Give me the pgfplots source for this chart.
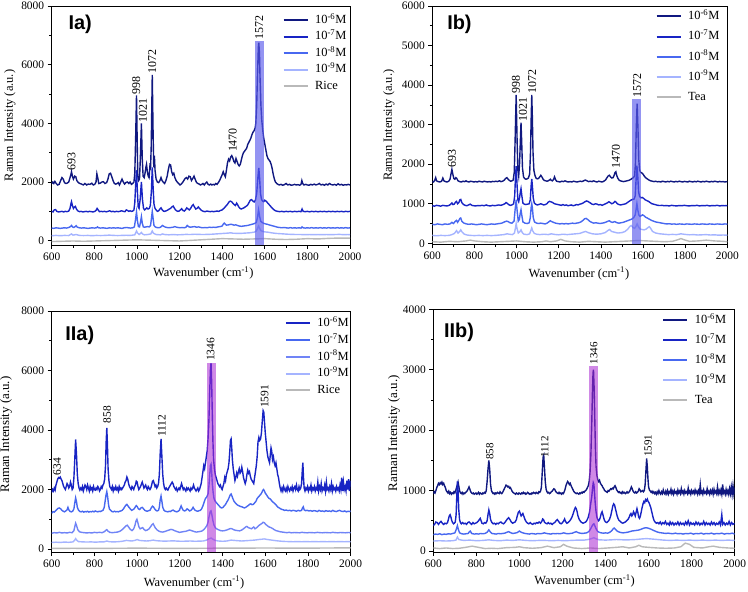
\documentclass[border=0pt]{standalone}
\usepackage{fontspec}
\setmainfont{Liberation Serif}
\newfontfamily\panelfont{Liberation Sans}
\usepackage{pgfplots}
\pgfplotsset{compat=1.18}
\definecolor{navy}{RGB}{16,24,128}
\definecolor{bluea}{RGB}{24,36,196}
\definecolor{blueb}{RGB}{72,104,240}
\definecolor{bluec}{RGB}{112,132,246}
\definecolor{bluel}{RGB}{165,180,255}
\definecolor{grayl}{RGB}{185,185,185}
\definecolor{hlb}{RGB}{90,90,235}
\definecolor{hlm}{RGB}{170,40,210}
\pgfplotsset{legend image code/.code={\draw[#1,line width=2bp] (0bp,0bp) -- (24bp,0bp);}}
\pgfplotsset{
  ramanaxis/.style={
    scale only axis,
    xmin=600, xmax=2000,
    xtick={600,800,...,2000},
    minor x tick num=1,
    minor y tick num=1,
    tick pos=left,
    tick align=outside,
    major tick length=4bp, minor tick length=2.5bp,
    axis line style={line width=0.8bp},
    every tick/.style={black, line width=0.7bp},
    ticklabel style={font=\rmfamily\fontsize{11.5}{13}\selectfont},
    /pgf/number format/assume math mode=true,
    /pgf/number format/1000 sep={},
    scaled y ticks=false,
    xlabel={Wavenumber (cm\textsuperscript{-1})},
    ylabel={Raman Intensity (a.u.)},
    label style={font=\rmfamily\fontsize{12.5}{14}\selectfont},
    legend cell align=left,
    every axis plot/.append style={line width=1.4bp},
  },
}
\tikzset{
  peak/.style={rotate=90, anchor=west, inner sep=0.5bp, font=\rmfamily\fontsize{12}{14}\selectfont},
  plabel/.style={anchor=north west, inner sep=0pt, font=\panelfont\bfseries\fontsize{20}{22}\selectfont},
}
\begin{document}
\begin{tikzpicture}
\path[use as bounding box] (0,0) rectangle (748bp,592bp);
% ---------------- Ia ----------------
\begin{axis}[ramanaxis, at={(51.7bp,346.9bp)}, anchor=south west, width=298.3bp, height=239.1bp,
  ymin=-150, ymax=8000, ytick={0,2000,...,8000},
  ylabel style={at={(axis description cs:-0.14,0.5)}, anchor=center},
  xlabel style={at={(axis description cs:0.508,-0.117)}, anchor=center},
  legend style={draw=none, fill=none, at={(rel axis cs:0.774,0.964)}, anchor=north west, inner sep=0pt, outer sep=0pt, row sep=4.9bp, font=\rmfamily\fontsize{12.5}{14}\selectfont, nodes={inner sep=0pt, text height=9bp, text depth=2.5bp}, /tikz/every odd column/.append style={column sep=6.5bp}}]
\addplot[navy] coordinates {(600,1950)(605,2000)(610,1950)(615,2020)(620,1960)(628,1900)(635,1920)(642,2050)(648,2150)(654,2100)(660,1980)(666,1950)(672,1960)(680,2000)(686,2150)(690,2250)(693,2350)(697,2200)(702,2100)(708,2200)(713,2180)(718,2050)(725,1980)(732,1950)(740,1930)(748,1900)(756,1950)(764,1900)(772,1930)(780,1920)(788,1960)(795,1900)(802,1920)(808,2000)(812,2280)(816,2150)(821,1950)(828,1960)(835,2000)(842,2010)(850,1950)(858,1980)(864,2100)(870,2280)(876,2300)(882,2180)(888,2050)(894,1950)(900,1930)(906,1940)(912,1980)(918,1900)(924,2000)(930,2100)(936,2000)(942,1930)(948,1980)(955,2000)(962,1950)(968,2000)(974,1920)(980,1950)(986,2000)(990,2300)(994,3500)(998,4950)(1001,3500)(1004,2200)(1008,2050)(1012,2100)(1016,2800)(1021,4000)(1025,2800)(1029,2200)(1034,2150)(1038,2300)(1042,2500)(1045,2600)(1049,2350)(1053,2200)(1057,2150)(1061,2550)(1064,2500)(1067,3200)(1072,5650)(1076,3600)(1079,2500)(1082,2900)(1085,2400)(1090,2100)(1096,2000)(1102,1980)(1108,2050)(1113,2150)(1118,2050)(1124,1990)(1130,1950)(1136,2050)(1142,2200)(1148,2450)(1153,2600)(1158,2580)(1163,2350)(1168,2250)(1173,2300)(1178,2150)(1184,2050)(1190,1990)(1196,1950)(1202,1900)(1208,1930)(1214,1980)(1220,2050)(1226,2120)(1232,2150)(1238,2100)(1244,2200)(1250,2180)(1256,2050)(1262,2120)(1268,2200)(1274,2080)(1280,1980)(1286,1950)(1292,1930)(1298,1900)(1304,1920)(1310,1950)(1316,1900)(1322,1960)(1328,2000)(1334,1920)(1340,1900)(1346,1930)(1352,1900)(1358,1920)(1364,1900)(1370,1950)(1376,1920)(1382,1980)(1388,2050)(1394,2150)(1400,2250)(1405,2350)(1410,2250)(1415,2180)(1420,2400)(1425,2650)(1430,2780)(1435,2720)(1440,2850)(1445,2900)(1450,2820)(1455,2700)(1460,2650)(1465,2800)(1470,2700)(1475,2600)(1480,2550)(1485,2600)(1490,2750)(1495,2900)(1500,3000)(1505,3050)(1510,3100)(1515,3150)(1520,3280)(1525,3350)(1530,3420)(1535,3500)(1540,3620)(1545,3700)(1550,3750)(1555,3850)(1558,4000)(1562,4600)(1566,5700)(1570,6600)(1572,6750)(1575,6400)(1578,5500)(1582,4600)(1586,4100)(1590,3800)(1595,3500)(1600,3300)(1605,3100)(1610,2900)(1615,2800)(1620,2750)(1625,2700)(1630,2600)(1635,2450)(1640,2250)(1645,2100)(1650,2000)(1656,1950)(1662,1920)(1668,1900)(1676,1920)(1684,1890)(1692,1910)(1700,1950)(1708,1900)(1716,1920)(1724,1890)(1732,1900)(1740,1920)(1748,1900)(1756,1910)(1764,1890)(1770,1920)(1774,2050)(1778,1950)(1784,1900)(1792,1920)(1800,1900)(1808,1890)(1816,1920)(1824,1900)(1832,1930)(1840,1900)(1848,1920)(1856,1950)(1864,1900)(1872,1920)(1880,1890)(1888,1930)(1896,1900)(1904,1950)(1912,1910)(1920,1900)(1928,1920)(1936,1890)(1944,1940)(1952,1900)(1960,1920)(1968,1890)(1976,1910)(1984,1900)(1992,1920)(2000,1900)};
\addplot[bluea] coordinates {(600,1000)(606,980)(612,1050)(618,1060)(624,1000)(632,980)(640,990)(648,1000)(656,980)(664,1000)(672,990)(680,1010)(686,1100)(690,1250)(693,1330)(697,1200)(702,1100)(707,1150)(711,1170)(716,1080)(722,1020)(730,990)(738,1000)(746,980)(754,990)(762,1000)(770,985)(778,1000)(786,990)(794,980)(802,1000)(808,1030)(813,1100)(818,1050)(824,990)(832,1000)(840,990)(848,1000)(856,985)(864,1000)(872,1020)(880,990)(888,1000)(896,985)(904,1000)(912,990)(920,1000)(928,1020)(936,1000)(944,990)(950,1050)(956,1030)(962,1000)(968,1020)(974,1000)(980,1010)(986,1050)(990,1300)(994,1900)(998,2400)(1002,1700)(1006,1150)(1010,1100)(1015,1400)(1021,2000)(1026,1400)(1031,1100)(1036,1050)(1041,1080)(1046,1120)(1052,1080)(1058,1100)(1063,1200)(1068,1700)(1072,2500)(1076,1800)(1080,1250)(1085,1100)(1090,1050)(1096,1000)(1102,1020)(1108,1080)(1113,1120)(1118,1060)(1124,1010)(1130,1000)(1138,1020)(1146,1050)(1152,1080)(1158,1100)(1164,1150)(1170,1180)(1175,1120)(1180,1060)(1186,1020)(1192,1000)(1198,1010)(1204,1050)(1210,1090)(1216,1030)(1222,1010)(1228,1050)(1234,1120)(1240,1080)(1246,1050)(1252,1100)(1258,1180)(1264,1230)(1270,1150)(1276,1080)(1282,1100)(1288,1150)(1294,1100)(1300,1050)(1306,1020)(1312,1000)(1320,990)(1328,1010)(1336,1000)(1344,990)(1352,1000)(1360,990)(1368,1000)(1376,1010)(1384,1000)(1392,1030)(1400,1050)(1408,1100)(1414,1150)(1420,1200)(1426,1250)(1432,1320)(1438,1350)(1444,1330)(1450,1280)(1456,1230)(1462,1200)(1468,1280)(1473,1220)(1478,1150)(1484,1100)(1490,1080)(1496,1100)(1502,1120)(1508,1150)(1514,1180)(1520,1220)(1526,1300)(1532,1380)(1538,1400)(1544,1350)(1550,1320)(1556,1380)(1562,1600)(1567,2100)(1572,2480)(1576,2100)(1580,1600)(1585,1400)(1590,1350)(1595,1330)(1600,1380)(1606,1350)(1612,1300)(1618,1250)(1624,1200)(1630,1150)(1636,1100)(1642,1060)(1650,1020)(1660,1000)(1670,990)(1680,1000)(1690,985)(1700,1000)(1710,990)(1720,1000)(1730,985)(1740,1000)(1750,990)(1760,1000)(1770,990)(1775,1080)(1780,1000)(1790,990)(1800,1000)(1810,985)(1820,1000)(1830,990)(1840,1000)(1850,985)(1860,1000)(1870,990)(1880,1000)(1890,985)(1900,1000)(1910,990)(1920,1000)(1930,985)(1940,1000)(1950,990)(1960,1000)(1970,985)(1980,1000)(1990,990)(2000,1000)};
\addplot[blueb] coordinates {(600,430)(610,420)(620,440)(630,430)(640,420)(650,430)(660,440)(670,430)(680,450)(688,480)(693,520)(698,470)(704,450)(710,480)(715,510)(720,460)(730,440)(740,430)(750,440)(760,430)(770,420)(780,430)(790,440)(800,430)(810,440)(815,470)(820,440)(830,430)(840,440)(850,430)(860,420)(870,440)(880,430)(890,440)(900,430)(910,440)(920,430)(930,420)(940,440)(950,450)(960,440)(970,430)(980,440)(988,470)(993,700)(998,980)(1002,700)(1007,480)(1012,470)(1016,600)(1021,820)(1025,600)(1030,470)(1036,460)(1042,470)(1050,480)(1058,470)(1064,520)(1068,750)(1072,1000)(1076,760)(1080,520)(1086,470)(1092,450)(1100,440)(1108,450)(1114,480)(1120,520)(1126,490)(1134,460)(1142,450)(1150,440)(1160,450)(1170,460)(1178,480)(1186,460)(1194,450)(1202,440)(1212,450)(1222,440)(1230,460)(1236,520)(1242,480)(1250,460)(1260,470)(1270,480)(1280,460)(1290,470)(1300,450)(1310,440)(1320,450)(1330,440)(1340,460)(1350,450)(1360,460)(1370,450)(1380,470)(1390,480)(1400,500)(1405,560)(1410,600)(1415,560)(1420,530)(1430,540)(1440,560)(1448,550)(1456,530)(1464,540)(1472,520)(1480,500)(1490,490)(1500,500)(1510,510)(1520,520)(1530,540)(1540,560)(1550,580)(1560,620)(1566,800)(1571,1050)(1576,820)(1581,660)(1588,620)(1596,590)(1604,570)(1612,560)(1620,540)(1630,520)(1640,500)(1650,480)(1660,460)(1670,450)(1680,440)(1690,450)(1700,440)(1710,430)(1720,445)(1730,430)(1740,440)(1750,430)(1760,440)(1770,430)(1775,470)(1780,440)(1790,430)(1800,440)(1810,430)(1820,445)(1830,430)(1840,440)(1850,430)(1860,445)(1870,430)(1880,440)(1890,430)(1900,445)(1910,430)(1920,440)(1930,430)(1940,445)(1950,430)(1960,440)(1970,430)(1980,445)(1990,430)(2000,440)};
\addplot[bluel] coordinates {(600,170)(620,180)(640,170)(660,180)(680,175)(693,230)(700,190)(715,210)(730,180)(750,175)(770,180)(790,170)(810,180)(830,175)(850,180)(870,190)(890,180)(910,175)(930,180)(950,185)(970,180)(990,200)(995,280)(998,330)(1003,260)(1010,210)(1016,240)(1021,280)(1026,230)(1035,200)(1050,210)(1065,230)(1072,330)(1078,250)(1090,210)(1110,200)(1120,230)(1130,210)(1150,200)(1170,210)(1190,200)(1210,205)(1230,215)(1250,210)(1270,220)(1290,215)(1310,210)(1330,215)(1350,220)(1370,230)(1390,240)(1410,250)(1430,260)(1440,270)(1450,255)(1470,250)(1490,250)(1510,260)(1530,270)(1550,290)(1560,330)(1566,420)(1571,500)(1576,420)(1582,340)(1590,320)(1600,300)(1615,290)(1630,270)(1650,250)(1670,240)(1690,230)(1710,220)(1730,215)(1750,210)(1770,210)(1790,205)(1810,210)(1830,205)(1850,210)(1870,205)(1890,210)(1910,205)(1930,210)(1950,215)(1970,205)(1990,210)(2000,205)};
\addplot[grayl] coordinates {(600,-30)(650,-20)(700,-10)(750,-20)(800,-10)(850,0)(900,10)(950,20)(1000,30)(1050,20)(1100,10)(1150,0)(1200,-10)(1250,10)(1300,30)(1350,50)(1400,70)(1450,60)(1500,50)(1550,60)(1600,70)(1650,50)(1700,40)(1750,50)(1800,70)(1850,60)(1900,80)(1950,90)(2000,90)};
\legend{10\textsuperscript{-6}M,10\textsuperscript{-7}M,10\textsuperscript{-8}M,10\textsuperscript{-9}M,Rice}
\fill[hlb, fill opacity=0.65] (axis cs:1555,-150) rectangle (axis cs:1597,6820);
\node[peak] at (axis cs:693,2380) {693};
\node[peak] at (axis cs:997,4960) {998};
\node[peak] at (axis cs:1028,4020) {1021};
\node[peak] at (axis cs:1072,5680) {1072};
\node[peak] at (axis cs:1450,3000) {1470};
\node[peak] at (axis cs:1574,6830) {1572};
\node[plabel] at (rel axis cs:0.056,0.962) {Ia)};
\end{axis}
% ---------------- Ib ----------------
\begin{axis}[ramanaxis, at={(432.3bp,347.5bp)}, anchor=south west, width=295bp, height=238.5bp,
  ymin=-30, ymax=6000, ytick={0,1000,...,6000},
  ylabel style={at={(axis description cs:-0.147,0.5)}, anchor=center},
  xlabel style={at={(axis description cs:0.497,-0.121)}, anchor=center},
  legend style={draw=none, fill=none, at={(rel axis cs:0.757,0.981)}, anchor=north west, inner sep=0pt, outer sep=0pt, row sep=8.75bp, font=\rmfamily\fontsize{12.5}{14}\selectfont, nodes={inner sep=0pt, text height=9bp, text depth=2.5bp}, /tikz/every odd column/.append style={column sep=6.5bp}}]
\addplot[navy] coordinates {(600,1560)(606,1550)(612,1600)(616,1660)(620,1580)(628,1560)(636,1550)(644,1570)(650,1650)(655,1580)(662,1560)(670,1550)(678,1570)(684,1620)(689,1760)(693,1870)(697,1760)(702,1640)(707,1620)(712,1660)(716,1640)(722,1580)(730,1560)(738,1550)(746,1570)(754,1560)(760,1580)(766,1560)(774,1550)(782,1570)(790,1560)(798,1550)(806,1560)(814,1550)(822,1570)(830,1560)(838,1550)(846,1570)(854,1560)(862,1550)(870,1560)(878,1550)(886,1565)(894,1560)(902,1570)(910,1560)(918,1580)(926,1560)(934,1570)(942,1600)(948,1640)(954,1660)(960,1620)(966,1590)(972,1570)(978,1580)(984,1600)(989,1800)(993,2600)(998,3750)(1002,2700)(1006,1850)(1010,1700)(1014,2000)(1018,2600)(1021,3050)(1024,2600)(1028,1900)(1033,1680)(1038,1640)(1044,1620)(1050,1630)(1056,1650)(1062,1750)(1066,2300)(1069,3100)(1072,3750)(1075,3150)(1078,2300)(1082,1850)(1087,1720)(1092,1650)(1098,1630)(1104,1640)(1110,1680)(1115,1720)(1120,1680)(1126,1620)(1132,1590)(1138,1580)(1144,1570)(1150,1580)(1156,1600)(1160,1620)(1165,1590)(1170,1580)(1176,1620)(1180,1680)(1185,1610)(1190,1570)(1198,1560)(1206,1550)(1214,1570)(1222,1560)(1230,1580)(1238,1560)(1246,1550)(1254,1560)(1262,1550)(1270,1570)(1278,1560)(1286,1550)(1294,1560)(1302,1570)(1310,1560)(1318,1580)(1326,1600)(1334,1580)(1342,1560)(1350,1570)(1358,1560)(1366,1580)(1374,1560)(1382,1550)(1390,1570)(1398,1560)(1406,1550)(1414,1570)(1422,1600)(1428,1650)(1434,1700)(1440,1720)(1446,1680)(1452,1650)(1458,1660)(1463,1720)(1467,1790)(1471,1810)(1475,1720)(1480,1650)(1486,1600)(1492,1580)(1500,1570)(1508,1560)(1516,1570)(1524,1580)(1532,1590)(1540,1610)(1548,1640)(1554,1660)(1560,1700)(1564,2000)(1568,2900)(1572,3530)(1576,2900)(1580,2100)(1584,1850)(1588,1800)(1594,1780)(1600,1750)(1606,1700)(1612,1660)(1620,1630)(1628,1600)(1636,1580)(1644,1570)(1652,1560)(1660,1570)(1668,1555)(1676,1560)(1684,1550)(1692,1570)(1700,1560)(1708,1550)(1716,1565)(1724,1555)(1732,1570)(1740,1560)(1748,1550)(1756,1565)(1764,1555)(1772,1570)(1780,1560)(1788,1550)(1796,1565)(1804,1560)(1812,1550)(1820,1570)(1828,1560)(1836,1550)(1844,1565)(1852,1555)(1860,1570)(1868,1560)(1876,1550)(1884,1565)(1892,1555)(1900,1570)(1908,1560)(1916,1550)(1924,1565)(1932,1555)(1940,1570)(1948,1560)(1956,1550)(1964,1565)(1972,1555)(1980,1560)(1988,1550)(2000,1560)};
\addplot[bluea] coordinates {(600,950)(610,940)(620,960)(630,950)(640,940)(650,960)(660,950)(670,945)(680,960)(688,990)(693,1020)(698,980)(704,990)(710,1040)(715,1060)(720,1000)(726,1030)(731,1100)(735,1110)(740,1030)(748,980)(756,960)(764,950)(772,970)(780,990)(788,960)(796,950)(806,945)(816,955)(826,950)(836,960)(846,950)(856,970)(866,950)(876,945)(886,960)(896,950)(906,960)(916,970)(926,960)(936,980)(944,1000)(950,1030)(956,1010)(962,980)(970,960)(978,970)(986,1000)(991,1200)(995,1700)(998,1950)(1002,1500)(1006,1100)(1010,1050)(1014,1150)(1018,1300)(1021,1380)(1025,1200)(1030,1020)(1036,990)(1044,980)(1052,990)(1060,1000)(1065,1100)(1069,1450)(1072,1630)(1075,1450)(1079,1150)(1084,1020)(1090,990)(1098,970)(1106,980)(1114,1000)(1120,990)(1128,970)(1136,980)(1144,1000)(1150,1040)(1156,1060)(1162,1050)(1168,1040)(1174,1020)(1180,1000)(1188,990)(1196,980)(1204,970)(1212,960)(1220,980)(1228,960)(1236,970)(1244,950)(1252,960)(1260,970)(1268,950)(1276,960)(1284,980)(1292,970)(1300,990)(1308,1000)(1316,1020)(1324,1050)(1332,1070)(1338,1060)(1344,1040)(1350,1020)(1358,990)(1366,980)(1374,1000)(1382,990)(1390,970)(1398,980)(1406,960)(1414,980)(1422,1000)(1430,1020)(1438,1050)(1444,1030)(1452,1000)(1460,1020)(1467,1060)(1472,1040)(1478,1000)(1486,980)(1494,970)(1502,980)(1510,990)(1518,1000)(1526,1030)(1534,1060)(1542,1090)(1550,1110)(1558,1120)(1563,1200)(1567,1600)(1571,1960)(1575,1700)(1579,1300)(1584,1180)(1590,1150)(1596,1160)(1602,1140)(1610,1100)(1618,1080)(1626,1060)(1634,1030)(1642,1000)(1650,990)(1660,975)(1670,960)(1680,955)(1690,960)(1700,950)(1712,955)(1724,945)(1736,960)(1748,950)(1760,945)(1772,955)(1784,950)(1796,960)(1808,950)(1820,945)(1832,955)(1844,950)(1856,960)(1868,945)(1880,955)(1892,950)(1904,960)(1916,945)(1928,955)(1940,950)(1952,960)(1964,945)(1976,955)(1988,950)(2000,955)};
\addplot[blueb] coordinates {(600,480)(612,470)(624,490)(636,480)(648,470)(660,490)(672,480)(684,490)(693,530)(700,500)(710,560)(715,580)(720,530)(726,580)(731,630)(735,640)(740,560)(750,510)(762,490)(774,480)(786,490)(798,480)(810,470)(822,480)(834,490)(846,480)(858,470)(870,480)(882,490)(894,480)(906,490)(918,500)(930,510)(942,540)(952,560)(960,550)(968,520)(978,510)(988,560)(993,850)(998,1100)(1003,800)(1008,560)(1013,600)(1017,750)(1021,850)(1025,700)(1030,540)(1040,510)(1050,500)(1060,520)(1065,650)(1069,900)(1072,1000)(1075,900)(1079,650)(1085,540)(1095,510)(1105,500)(1115,510)(1125,500)(1135,490)(1145,510)(1155,550)(1160,570)(1166,550)(1175,530)(1185,510)(1195,500)(1205,490)(1215,500)(1225,490)(1235,500)(1245,490)(1255,500)(1265,510)(1275,500)(1285,510)(1295,520)(1305,540)(1315,580)(1323,620)(1330,630)(1338,600)(1346,560)(1356,530)(1366,510)(1376,520)(1386,510)(1396,500)(1406,510)(1416,520)(1426,540)(1434,560)(1440,570)(1448,540)(1456,530)(1466,550)(1476,520)(1486,510)(1496,520)(1506,530)(1516,550)(1526,570)(1536,590)(1546,610)(1556,650)(1563,720)(1567,850)(1571,1000)(1575,850)(1580,720)(1586,680)(1592,700)(1598,720)(1604,700)(1612,660)(1620,640)(1630,610)(1640,580)(1650,560)(1660,540)(1670,530)(1680,520)(1690,510)(1700,500)(1712,490)(1724,495)(1736,485)(1748,490)(1760,480)(1772,490)(1784,485)(1796,480)(1808,490)(1820,485)(1832,480)(1844,490)(1856,485)(1868,480)(1880,490)(1892,485)(1904,480)(1916,490)(1928,485)(1940,480)(1952,490)(1964,485)(1976,480)(1988,490)(2000,485)};
\addplot[bluel] coordinates {(600,200)(620,190)(640,200)(660,195)(680,200)(693,220)(705,250)(715,320)(722,260)(730,300)(735,340)(742,280)(752,230)(765,210)(780,200)(800,195)(820,200)(840,195)(860,200)(880,195)(900,200)(920,210)(940,220)(955,240)(965,230)(980,220)(990,260)(995,400)(998,500)(1002,380)(1008,260)(1015,290)(1021,340)(1027,270)(1035,230)(1050,220)(1062,240)(1068,330)(1072,390)(1076,320)(1084,250)(1095,230)(1110,220)(1130,230)(1150,220)(1165,240)(1180,225)(1200,215)(1220,230)(1240,220)(1260,230)(1280,240)(1300,250)(1315,280)(1328,300)(1340,270)(1360,240)(1380,230)(1400,240)(1420,270)(1435,330)(1442,350)(1450,300)(1465,280)(1480,260)(1500,270)(1515,300)(1528,360)(1538,430)(1545,450)(1552,400)(1560,380)(1566,420)(1572,490)(1578,420)(1586,360)(1595,350)(1605,340)(1615,360)(1624,400)(1630,420)(1636,380)(1645,300)(1660,260)(1680,240)(1700,230)(1720,220)(1740,225)(1760,220)(1780,240)(1800,225)(1820,215)(1840,220)(1860,210)(1880,215)(1900,220)(1920,210)(1940,215)(1960,205)(1980,210)(2000,205)};
\addplot[grayl] coordinates {(600,40)(640,30)(680,50)(720,40)(760,60)(780,80)(800,60)(840,40)(880,30)(920,40)(960,50)(1000,60)(1040,40)(1080,30)(1120,40)(1140,60)(1160,40)(1190,60)(1210,100)(1230,60)(1260,40)(1300,30)(1340,50)(1380,40)(1420,30)(1460,40)(1500,50)(1540,60)(1580,70)(1620,60)(1660,50)(1700,40)(1740,50)(1765,90)(1780,120)(1795,90)(1820,50)(1860,60)(1900,80)(1940,60)(1980,50)(2000,40)};
\legend{10\textsuperscript{-6}M,10\textsuperscript{-7}M,10\textsuperscript{-8}M,10\textsuperscript{-9}M,Tea}
\fill[hlb, fill opacity=0.65] (axis cs:1550,-30) rectangle (axis cs:1592,3655);
\node[peak] at (axis cs:693,1890) {693};
\node[peak] at (axis cs:997,3760) {998};
\node[peak] at (axis cs:1030,3060) {1021};
\node[peak] at (axis cs:1074,3760) {1072};
\node[peak] at (axis cs:1472,1880) {1470};
\node[peak] at (axis cs:1573,3665) {1572};
\node[plabel] at (rel axis cs:0.05,0.962) {Ib)};
\end{axis}
% ---------------- IIa ----------------
\begin{axis}[ramanaxis, at={(51.7bp,40bp)}, anchor=south west, width=299bp, height=241bp,
  ymin=-100, ymax=8000, ytick={0,2000,...,8000},
  ylabel style={at={(axis description cs:-0.153,0.488)}, anchor=center, font=\rmfamily\fontsize{13}{15}\selectfont},
  xlabel style={at={(axis description cs:0.476,-0.127)}, anchor=center},
  legend style={draw=none, fill=none, at={(rel axis cs:0.78,0.972)}, anchor=north west, inner sep=0pt, outer sep=0pt, row sep=5.2bp, font=\rmfamily\fontsize{12.5}{14}\selectfont, nodes={inner sep=0pt, text height=9bp, text depth=2.5bp}, /tikz/every odd column/.append style={column sep=6.5bp}}]
\addplot[bluea] coordinates {(600,1900)(604,2000)(608,1950)(612,2050)(616,1980)(620,2150)(624,2250)(628,2350)(632,2400)(636,2380)(640,2420)(644,2350)(648,2300)(652,2200)(656,2100)(660,2050)(664,2000)(668,2100)(672,2200)(676,2150)(680,2050)(684,2100)(688,2250)(692,2150)(696,2000)(700,2050)(704,2400)(708,3000)(712,3680)(716,3200)(720,2500)(724,2200)(728,2050)(732,1980)(736,2050)(740,2000)(744,2100)(748,1950)(752,2050)(756,2150)(760,2100)(764,2000)(768,2150)(772,2050)(776,1950)(780,2100)(784,2000)(788,2050)(792,1950)(796,2100)(800,2000)(804,1980)(808,2050)(812,2000)(816,2100)(820,2050)(824,1950)(828,2000)(832,2100)(836,2050)(840,2150)(844,2200)(848,2350)(852,2800)(855,3600)(858,4070)(861,3500)(864,2700)(868,2300)(872,2100)(876,2050)(880,2000)(884,2100)(888,1950)(892,2050)(896,2000)(900,2100)(904,2000)(908,2050)(912,1950)(916,2100)(920,2000)(924,2050)(928,2000)(932,2050)(936,2100)(940,2150)(944,2250)(948,2300)(952,2420)(956,2350)(960,2200)(964,2100)(968,2050)(972,2000)(976,2100)(980,2050)(984,2000)(988,2100)(992,2150)(996,2280)(1000,2250)(1004,2100)(1008,2000)(1012,2050)(1016,2100)(1020,2180)(1024,2250)(1028,2150)(1032,2050)(1036,2100)(1040,2150)(1044,2050)(1048,2000)(1052,2100)(1056,2050)(1060,2000)(1064,2050)(1068,2150)(1072,2280)(1076,2300)(1080,2200)(1084,2100)(1088,2150)(1092,2050)(1096,2100)(1100,2200)(1104,2500)(1108,3200)(1112,3700)(1116,3100)(1120,2500)(1124,2200)(1128,2050)(1132,2000)(1136,2050)(1140,2000)(1144,1980)(1148,2050)(1152,2100)(1156,2150)(1160,2200)(1164,2250)(1168,2200)(1172,2100)(1176,2050)(1180,2000)(1184,2050)(1188,1950)(1192,2000)(1196,2050)(1200,2000)(1204,2100)(1208,2200)(1212,2100)(1216,2000)(1220,2050)(1224,2000)(1228,1950)(1232,2050)(1236,2000)(1240,2050)(1244,2000)(1248,1950)(1252,2050)(1256,2000)(1260,2050)(1264,2150)(1268,2050)(1272,2000)(1276,1950)(1280,2000)(1284,2050)(1288,1950)(1292,2000)(1296,2100)(1300,2200)(1304,2400)(1308,2600)(1312,2800)(1316,2700)(1320,2900)(1324,3100)(1328,3300)(1332,3700)(1336,4300)(1340,5300)(1343,6000)(1346,6250)(1349,5600)(1352,4500)(1355,3600)(1358,3000)(1362,2700)(1366,2500)(1370,2400)(1374,2300)(1378,2200)(1382,2150)(1386,2100)(1390,2150)(1394,2050)(1398,2000)(1402,2100)(1406,2200)(1410,2400)(1414,2300)(1418,2500)(1422,2600)(1426,2700)(1430,2900)(1434,3300)(1437,3650)(1440,3700)(1443,3400)(1446,3000)(1450,2700)(1454,2500)(1458,2300)(1462,2400)(1466,2550)(1470,2450)(1474,2600)(1478,2700)(1482,2550)(1486,2600)(1490,2750)(1494,2600)(1498,2400)(1502,2300)(1506,2200)(1510,2300)(1514,2500)(1518,2650)(1522,2550)(1526,2600)(1530,2450)(1534,2350)(1538,2300)(1542,2250)(1546,2200)(1550,2400)(1554,2600)(1558,2800)(1562,3100)(1566,3600)(1570,3750)(1574,3650)(1578,3700)(1582,3900)(1586,4300)(1590,4650)(1593,4600)(1596,4300)(1600,3900)(1604,3600)(1608,3300)(1612,3100)(1616,3000)(1620,2900)(1624,3200)(1627,3400)(1630,3300)(1634,3000)(1638,3100)(1642,2900)(1646,2800)(1650,2900)(1654,2700)(1658,2500)(1662,2400)(1666,2200)(1670,2050)(1674,1950)(1678,2050)(1682,1950)(1686,2100)(1690,2000)(1694,1950)(1698,2050)(1702,1950)(1706,2100)(1710,2000)(1714,1950)(1718,2050)(1722,2000)(1726,2100)(1730,1950)(1734,2050)(1738,2100)(1742,2000)(1746,2150)(1750,2000)(1754,1950)(1758,2100)(1762,2000)(1766,2050)(1770,2200)(1773,2600)(1776,2900)(1779,2400)(1782,2050)(1786,1950)(1790,2050)(1794,2000)(1798,2100)(1802,1950)(1806,2050)(1810,2000)(1814,2150)(1818,1950)(1822,2050)(1826,2000)(1830,2100)(1834,1950)(1838,2050)(1842,2000)(1846,2250)(1850,1950)(1854,2100)(1858,2000)(1862,2200)(1866,1950)(1870,2050)(1874,2000)(1878,2150)(1882,1950)(1886,2250)(1890,2000)(1894,2050)(1898,1950)(1902,2100)(1906,2000)(1910,2200)(1914,1950)(1918,2100)(1922,2000)(1926,2050)(1930,1950)(1934,2100)(1938,2000)(1942,2050)(1946,1950)(1950,2150)(1954,2000)(1958,2400)(1962,1950)(1966,2250)(1970,2000)(1974,2100)(1978,1950)(1982,2300)(1986,2000)(1990,2350)(1994,1950)(1998,2300)(2000,2100)};
\addplot[blueb] coordinates {(600,1200)(606,1260)(612,1240)(618,1280)(624,1330)(630,1370)(636,1380)(642,1350)(648,1300)(654,1270)(660,1250)(666,1280)(672,1320)(676,1400)(680,1320)(686,1260)(692,1250)(698,1270)(704,1350)(708,1550)(712,1720)(716,1600)(720,1400)(726,1300)(732,1260)(738,1250)(744,1270)(750,1240)(756,1260)(762,1250)(768,1270)(774,1240)(780,1260)(786,1250)(792,1270)(798,1250)(804,1280)(810,1260)(816,1250)(822,1270)(828,1260)(834,1280)(840,1300)(846,1400)(850,1600)(854,1800)(858,1930)(862,1750)(866,1500)(870,1350)(876,1300)(882,1260)(888,1250)(894,1270)(900,1250)(906,1260)(912,1250)(918,1270)(924,1280)(930,1300)(936,1350)(942,1420)(948,1480)(952,1500)(956,1460)(962,1400)(968,1350)(974,1300)(980,1320)(986,1350)(992,1420)(996,1460)(1000,1430)(1006,1350)(1012,1330)(1018,1380)(1024,1400)(1030,1350)(1036,1300)(1042,1280)(1048,1270)(1054,1290)(1060,1300)(1066,1380)(1072,1440)(1076,1420)(1082,1350)(1088,1300)(1094,1280)(1100,1300)(1104,1400)(1108,1650)(1112,1780)(1116,1600)(1120,1400)(1126,1300)(1132,1270)(1138,1260)(1144,1250)(1150,1270)(1156,1260)(1162,1290)(1168,1310)(1174,1280)(1180,1260)(1186,1250)(1192,1270)(1198,1300)(1202,1380)(1206,1450)(1210,1380)(1216,1300)(1222,1280)(1228,1300)(1234,1350)(1240,1320)(1246,1280)(1252,1300)(1258,1350)(1262,1400)(1266,1350)(1272,1300)(1278,1280)(1284,1270)(1290,1290)(1296,1300)(1302,1350)(1308,1450)(1314,1580)(1320,1700)(1326,1750)(1332,1850)(1336,2100)(1340,2500)(1343,2800)(1346,2850)(1349,2600)(1352,2200)(1356,1900)(1360,1700)(1366,1600)(1372,1550)(1378,1500)(1384,1450)(1390,1400)(1396,1380)(1402,1400)(1408,1450)(1414,1500)(1420,1580)(1426,1650)(1432,1750)(1436,1820)(1440,1850)(1444,1780)(1448,1700)(1454,1600)(1460,1550)(1466,1500)(1472,1470)(1478,1450)(1484,1430)(1490,1420)(1496,1400)(1502,1380)(1508,1400)(1514,1430)(1520,1460)(1526,1500)(1532,1520)(1538,1490)(1544,1500)(1550,1550)(1556,1600)(1562,1700)(1568,1750)(1574,1800)(1580,1850)(1584,1900)(1588,1970)(1592,2000)(1596,1950)(1600,1880)(1606,1820)(1612,1750)(1618,1700)(1624,1680)(1630,1620)(1636,1580)(1642,1540)(1648,1500)(1654,1450)(1660,1400)(1666,1380)(1672,1350)(1678,1330)(1684,1320)(1690,1300)(1698,1310)(1706,1290)(1714,1300)(1722,1280)(1730,1300)(1738,1290)(1746,1270)(1754,1300)(1762,1280)(1770,1300)(1774,1380)(1778,1420)(1782,1320)(1788,1290)(1796,1300)(1804,1280)(1812,1290)(1820,1270)(1828,1290)(1836,1280)(1844,1260)(1852,1300)(1860,1270)(1868,1280)(1876,1260)(1884,1290)(1892,1270)(1900,1280)(1908,1260)(1916,1300)(1924,1270)(1932,1260)(1940,1280)(1948,1300)(1956,1270)(1964,1260)(1972,1280)(1980,1250)(1988,1270)(1996,1260)(2000,1280)};
\addplot[bluec] coordinates {(600,530)(612,550)(624,540)(636,560)(648,540)(660,550)(672,540)(684,560)(696,550)(704,620)(708,750)(712,870)(716,800)(722,650)(730,580)(740,560)(752,550)(764,540)(776,550)(788,540)(800,560)(812,550)(824,560)(836,550)(846,580)(852,620)(858,650)(864,600)(872,560)(884,550)(896,560)(908,570)(920,600)(930,650)(940,720)(948,780)(954,800)(960,740)(968,660)(976,620)(984,680)(990,800)(995,950)(999,1000)(1003,900)(1008,750)(1014,680)(1020,700)(1026,720)(1032,660)(1040,620)(1048,640)(1056,680)(1064,760)(1070,820)(1075,850)(1080,780)(1086,700)(1094,640)(1102,600)(1110,580)(1118,570)(1126,580)(1134,600)(1142,620)(1150,640)(1158,660)(1166,650)(1174,620)(1182,600)(1190,580)(1198,560)(1206,570)(1214,580)(1222,590)(1230,600)(1238,620)(1246,640)(1254,620)(1262,600)(1270,580)(1278,570)(1286,580)(1294,590)(1302,600)(1310,640)(1318,700)(1326,780)(1332,900)(1337,1100)(1342,1250)(1346,1280)(1350,1150)(1355,950)(1360,800)(1366,720)(1372,680)(1380,650)(1390,620)(1400,610)(1410,620)(1420,640)(1430,670)(1438,690)(1444,680)(1452,650)(1460,630)(1470,620)(1480,610)(1490,640)(1500,690)(1508,740)(1514,760)(1520,720)(1528,700)(1536,680)(1542,720)(1546,740)(1552,680)(1560,720)(1568,780)(1576,820)(1584,860)(1590,900)(1596,880)(1602,830)(1610,780)(1618,740)(1626,720)(1634,690)(1642,650)(1650,620)(1660,600)(1670,580)(1680,570)(1690,560)(1700,550)(1712,560)(1724,545)(1736,555)(1748,550)(1760,545)(1772,560)(1784,550)(1796,545)(1808,555)(1820,550)(1832,545)(1844,560)(1856,550)(1868,545)(1880,555)(1892,550)(1904,545)(1916,560)(1928,550)(1940,545)(1952,555)(1964,550)(1976,545)(1988,555)(2000,550)};
\addplot[bluel] coordinates {(600,220)(620,230)(640,220)(660,235)(680,225)(700,240)(708,300)(712,350)(717,300)(725,250)(745,240)(765,235)(785,240)(805,230)(825,240)(845,240)(858,270)(870,245)(890,240)(910,245)(930,260)(950,290)(960,280)(975,270)(990,290)(1000,320)(1010,290)(1025,280)(1045,270)(1060,280)(1075,300)(1090,280)(1110,270)(1130,265)(1150,270)(1170,275)(1190,265)(1210,260)(1230,265)(1250,270)(1270,260)(1290,265)(1310,270)(1325,300)(1335,340)(1346,370)(1355,330)(1365,290)(1380,270)(1400,260)(1420,270)(1440,300)(1455,290)(1470,280)(1490,270)(1510,280)(1530,290)(1550,300)(1570,320)(1585,330)(1595,340)(1610,320)(1630,300)(1650,280)(1670,265)(1690,255)(1710,250)(1730,245)(1750,250)(1770,245)(1790,250)(1810,245)(1830,250)(1850,245)(1870,250)(1890,245)(1910,250)(1930,245)(1950,250)(1970,245)(1990,250)(2000,245)};
\addplot[grayl] coordinates {(600,20)(700,25)(800,20)(900,25)(1000,30)(1100,25)(1200,20)(1300,25)(1400,30)(1500,30)(1600,35)(1700,30)(1800,30)(1900,35)(2000,40)};
\legend{10\textsuperscript{-6}M,10\textsuperscript{-7}M,10\textsuperscript{-8}M,10\textsuperscript{-9}M,Rice}
\fill[hlm, fill opacity=0.55] (axis cs:1328,-100) rectangle (axis cs:1368,6245);
\node[peak, font=\rmfamily\fontsize{11.5}{13}\selectfont] at (axis cs:626,2450) {634};
\node[peak, font=\rmfamily\fontsize{11.5}{13}\selectfont] at (axis cs:860,4200) {858};
\node[peak, font=\rmfamily\fontsize{11.5}{13}\selectfont] at (axis cs:1116,3750) {1112};
\node[peak, font=\rmfamily\fontsize{11.5}{13}\selectfont] at (axis cs:1344,6300) {1346};
\node[peak, font=\rmfamily\fontsize{11.5}{13}\selectfont] at (axis cs:1597,4720) {1591};
\node[plabel] at (rel axis cs:0.045,0.94) {IIa)};
\end{axis}
% ---------------- IIb ----------------
\begin{axis}[ramanaxis, at={(433.3bp,39.8bp)}, anchor=south west, width=301.4bp, height=242.9bp,
  ymin=-20, ymax=4000, ytick={0,1000,...,4000},
  ylabel style={at={(axis description cs:-0.13,0.49)}, anchor=center, font=\rmfamily\fontsize{13}{15}\selectfont},
  xlabel style={at={(axis description cs:0.502,-0.119)}, anchor=center},
  legend style={draw=none, fill=none, at={(rel axis cs:0.76,0.979)}, anchor=north west, inner sep=0pt, outer sep=0pt, row sep=8.5bp, font=\rmfamily\fontsize{12.5}{14}\selectfont, nodes={inner sep=0pt, text height=9bp, text depth=2.5bp}, /tikz/every odd column/.append style={column sep=6.5bp}}]
\addplot[navy] coordinates {(600,950)(604,980)(608,960)(612,1000)(616,1050)(620,1080)(624,1120)(628,1100)(632,1130)(636,1110)(640,1140)(644,1100)(648,1120)(652,1080)(656,1050)(660,1000)(664,980)(668,960)(672,990)(676,950)(680,970)(684,940)(688,960)(692,950)(696,980)(700,960)(704,1000)(708,1050)(712,1100)(715,1140)(718,1080)(722,1000)(726,960)(730,950)(734,970)(738,940)(742,960)(746,950)(750,970)(754,980)(758,1000)(762,1030)(766,1060)(770,1020)(774,980)(778,960)(782,950)(786,960)(790,940)(794,950)(798,960)(802,940)(806,950)(810,970)(814,940)(818,960)(822,950)(826,940)(830,960)(834,950)(838,970)(842,960)(846,1000)(850,1150)(854,1350)(858,1500)(862,1350)(866,1100)(870,1000)(874,970)(878,950)(882,960)(886,940)(890,960)(894,950)(898,970)(902,960)(906,950)(910,980)(914,960)(918,950)(922,970)(926,1000)(930,1030)(934,1060)(938,1090)(942,1080)(946,1060)(950,1070)(954,1040)(958,1050)(962,1020)(966,990)(970,970)(974,960)(978,950)(982,940)(986,960)(990,950)(994,940)(998,960)(1002,950)(1006,940)(1010,960)(1014,950)(1018,970)(1022,950)(1026,960)(1030,940)(1034,950)(1038,970)(1042,960)(1046,940)(1050,950)(1054,940)(1058,960)(1062,950)(1066,970)(1070,960)(1074,950)(1078,970)(1082,960)(1086,950)(1090,980)(1094,970)(1098,990)(1102,1050)(1106,1300)(1110,1550)(1113,1580)(1116,1400)(1120,1150)(1124,1020)(1128,980)(1132,960)(1136,970)(1140,950)(1144,960)(1148,980)(1152,990)(1156,1010)(1160,1030)(1164,1020)(1168,990)(1172,970)(1176,960)(1180,950)(1184,970)(1188,950)(1192,960)(1196,940)(1200,960)(1204,950)(1208,980)(1212,1020)(1216,1080)(1220,1120)(1224,1150)(1228,1130)(1232,1100)(1236,1120)(1240,1080)(1244,1050)(1248,1020)(1252,990)(1256,970)(1260,960)(1264,950)(1268,960)(1272,950)(1276,940)(1280,960)(1284,950)(1288,970)(1292,960)(1296,980)(1300,970)(1304,990)(1308,1000)(1312,1020)(1316,1050)(1320,1080)(1324,1150)(1328,1300)(1332,1600)(1336,2100)(1339,2600)(1342,2950)(1344,3000)(1347,2700)(1350,2200)(1353,1700)(1356,1400)(1360,1250)(1364,1180)(1368,1150)(1372,1170)(1376,1120)(1380,1100)(1384,1080)(1388,1050)(1392,1030)(1396,1000)(1400,990)(1404,980)(1408,970)(1412,1000)(1416,990)(1420,1010)(1424,1030)(1428,1020)(1432,1040)(1436,1030)(1440,1060)(1444,1080)(1448,1050)(1452,1010)(1456,990)(1460,970)(1464,980)(1468,960)(1472,970)(1476,950)(1480,980)(1484,960)(1488,970)(1492,950)(1496,960)(1500,980)(1504,960)(1508,970)(1512,990)(1516,1020)(1520,1060)(1524,1030)(1528,990)(1532,970)(1536,960)(1540,980)(1544,960)(1548,970)(1552,990)(1556,1030)(1560,1010)(1564,980)(1568,990)(1572,1000)(1576,980)(1580,1000)(1584,1100)(1588,1350)(1591,1530)(1594,1400)(1597,1200)(1600,1060)(1604,1010)(1608,990)(1612,970)(1616,990)(1620,960)(1624,980)(1628,950)(1632,970)(1636,940)(1640,980)(1644,950)(1648,1000)(1652,960)(1656,940)(1660,980)(1664,950)(1668,1010)(1672,960)(1676,940)(1680,990)(1684,950)(1688,1000)(1692,940)(1696,980)(1700,960)(1704,1020)(1708,950)(1712,990)(1716,940)(1720,1000)(1724,960)(1728,980)(1732,940)(1736,1010)(1740,960)(1744,990)(1748,950)(1752,1030)(1756,960)(1760,990)(1764,940)(1768,1000)(1772,960)(1776,980)(1780,950)(1784,1040)(1788,960)(1792,990)(1796,940)(1800,1000)(1804,960)(1808,990)(1812,950)(1816,1010)(1820,960)(1824,990)(1828,940)(1832,1000)(1836,960)(1840,1100)(1844,960)(1848,990)(1852,940)(1856,1010)(1860,960)(1864,980)(1868,950)(1872,1030)(1876,960)(1880,990)(1884,940)(1888,1000)(1892,960)(1896,1010)(1900,940)(1904,1020)(1908,960)(1912,990)(1916,950)(1920,1060)(1924,950)(1928,1000)(1932,950)(1936,1010)(1940,940)(1944,1100)(1948,960)(1952,990)(1956,940)(1960,1020)(1964,950)(1968,1000)(1972,940)(1976,1030)(1980,950)(1984,1060)(1988,940)(1992,1080)(1996,950)(2000,1050)};
\addplot[bluea] coordinates {(600,420)(606,440)(612,480)(618,470)(624,440)(630,470)(636,490)(642,460)(648,440)(654,460)(660,450)(666,470)(670,520)(674,580)(678,600)(682,560)(686,500)(690,470)(694,450)(698,460)(702,480)(706,600)(709,900)(712,1150)(715,1000)(718,700)(722,520)(726,470)(730,450)(736,470)(742,450)(748,460)(754,440)(760,470)(766,480)(772,460)(778,440)(784,470)(790,450)(796,460)(802,470)(808,490)(814,520)(818,540)(822,500)(826,460)(832,450)(838,470)(844,460)(850,500)(854,600)(858,680)(862,620)(866,520)(872,470)(878,450)(884,460)(890,440)(896,460)(902,450)(908,470)(914,480)(920,460)(926,450)(932,470)(938,500)(944,530)(950,550)(956,520)(962,480)(968,460)(974,470)(980,480)(986,520)(990,580)(995,640)(1000,660)(1004,620)(1008,580)(1012,600)(1016,620)(1020,580)(1026,520)(1032,480)(1038,460)(1044,450)(1050,470)(1056,450)(1062,440)(1068,460)(1074,450)(1080,470)(1086,460)(1092,480)(1098,460)(1104,490)(1108,530)(1112,520)(1116,480)(1122,460)(1128,450)(1134,470)(1140,450)(1146,460)(1152,440)(1158,460)(1164,470)(1170,500)(1176,520)(1182,490)(1188,460)(1194,450)(1200,470)(1206,500)(1210,530)(1214,490)(1220,460)(1226,470)(1232,490)(1238,520)(1244,560)(1250,620)(1256,690)(1260,720)(1264,700)(1268,650)(1272,580)(1278,520)(1284,490)(1290,470)(1296,460)(1302,470)(1308,480)(1314,510)(1320,560)(1326,650)(1331,780)(1336,900)(1340,1050)(1343,1130)(1346,1100)(1349,950)(1352,800)(1356,650)(1360,560)(1364,520)(1368,500)(1372,520)(1376,560)(1380,620)(1384,650)(1388,600)(1392,540)(1396,500)(1400,480)(1406,470)(1412,490)(1418,520)(1424,580)(1430,680)(1434,750)(1438,780)(1442,760)(1446,700)(1450,640)(1454,580)(1458,540)(1462,510)(1468,490)(1474,470)(1480,460)(1486,470)(1492,480)(1498,500)(1504,520)(1510,560)(1514,600)(1518,620)(1522,580)(1526,600)(1530,650)(1534,620)(1538,580)(1542,640)(1546,700)(1550,640)(1554,560)(1558,540)(1562,580)(1566,650)(1570,720)(1574,780)(1578,820)(1582,800)(1586,850)(1590,830)(1594,860)(1598,820)(1602,800)(1606,760)(1610,720)(1614,660)(1618,600)(1622,540)(1626,500)(1630,480)(1636,460)(1642,470)(1648,450)(1654,480)(1660,440)(1666,470)(1672,450)(1678,490)(1684,440)(1690,460)(1696,430)(1700,480)(1706,440)(1712,470)(1718,430)(1724,460)(1730,440)(1736,480)(1742,430)(1748,470)(1754,440)(1760,460)(1766,430)(1772,480)(1778,440)(1784,500)(1790,430)(1796,470)(1802,440)(1808,460)(1814,430)(1820,480)(1826,440)(1832,470)(1838,430)(1844,460)(1850,440)(1856,490)(1862,430)(1868,470)(1874,440)(1880,460)(1886,430)(1892,480)(1898,440)(1904,470)(1910,430)(1916,460)(1922,440)(1928,480)(1934,430)(1940,600)(1944,440)(1950,470)(1956,430)(1962,460)(1968,440)(1974,490)(1980,430)(1986,470)(1992,440)(2000,460)};
\addplot[blueb] coordinates {(600,270)(610,280)(620,275)(630,285)(640,270)(650,280)(660,275)(670,285)(680,280)(690,290)(700,300)(706,350)(712,420)(716,360)(722,300)(732,285)(742,280)(752,285)(762,290)(768,320)(772,330)(778,290)(790,280)(800,285)(810,280)(820,290)(830,285)(840,290)(850,310)(858,350)(864,320)(872,290)(882,285)(892,280)(902,290)(912,285)(922,290)(932,295)(942,310)(950,320)(958,305)(968,290)(978,295)(990,305)(1000,330)(1008,310)(1016,300)(1026,290)(1036,285)(1046,280)(1056,290)(1066,285)(1076,280)(1086,290)(1096,285)(1106,290)(1116,300)(1126,290)(1136,285)(1146,280)(1156,290)(1166,285)(1176,290)(1186,285)(1196,290)(1206,300)(1216,290)(1226,285)(1236,290)(1246,295)(1256,310)(1264,320)(1272,305)(1282,295)(1292,290)(1302,295)(1312,300)(1322,320)(1330,360)(1337,410)(1342,440)(1346,450)(1350,420)(1356,370)(1362,330)(1370,310)(1380,300)(1390,295)(1400,300)(1410,295)(1420,310)(1430,340)(1436,370)(1440,380)(1446,360)(1454,330)(1462,315)(1472,305)(1482,300)(1492,305)(1502,310)(1512,320)(1522,330)(1532,335)(1542,340)(1552,345)(1562,355)(1572,370)(1580,380)(1588,385)(1596,380)(1604,370)(1612,360)(1620,345)(1630,330)(1640,315)(1650,305)(1660,300)(1670,295)(1680,290)(1690,295)(1700,290)(1712,285)(1724,295)(1736,285)(1748,290)(1760,280)(1772,290)(1784,285)(1796,295)(1808,280)(1820,290)(1832,285)(1844,295)(1856,280)(1868,290)(1880,285)(1892,295)(1904,280)(1916,290)(1928,285)(1940,295)(1952,280)(1964,290)(1976,285)(1988,295)(2000,280)};
\addplot[bluel] coordinates {(600,165)(630,170)(660,165)(690,170)(705,180)(712,230)(718,190)(740,175)(770,180)(800,170)(830,175)(858,185)(880,175)(910,170)(940,180)(970,175)(1000,185)(1030,175)(1060,170)(1090,175)(1120,175)(1150,170)(1180,175)(1210,170)(1240,175)(1270,180)(1300,180)(1320,190)(1335,205)(1346,220)(1357,200)(1370,185)(1400,180)(1430,185)(1450,190)(1480,185)(1510,185)(1540,190)(1570,200)(1590,205)(1610,200)(1640,190)(1670,180)(1700,175)(1730,180)(1760,175)(1790,180)(1820,175)(1850,180)(1880,175)(1910,180)(1940,175)(1970,180)(2000,175)};
\addplot[grayl] coordinates {(600,50)(630,40)(660,50)(690,40)(720,45)(750,60)(780,80)(810,60)(840,40)(870,45)(900,40)(940,55)(980,60)(1000,70)(1020,55)(1060,45)(1100,55)(1130,80)(1160,55)(1190,70)(1205,110)(1220,80)(1250,50)(1290,40)(1330,50)(1370,40)(1410,50)(1450,60)(1480,70)(1510,50)(1540,70)(1555,95)(1570,70)(1600,60)(1640,50)(1680,45)(1720,50)(1750,70)(1770,130)(1790,110)(1810,60)(1850,50)(1880,70)(1900,80)(1930,60)(1970,50)(2000,45)};
\legend{10\textsuperscript{-6}M,10\textsuperscript{-7}M,10\textsuperscript{-8}M,10\textsuperscript{-9}M,Tea}
\fill[hlm, fill opacity=0.55] (axis cs:1325,-20) rectangle (axis cs:1365,3060);
\node[peak, font=\rmfamily\fontsize{11}{13}\selectfont] at (axis cs:862,1500) {858};
\node[peak, font=\rmfamily\fontsize{11}{13}\selectfont] at (axis cs:1118,1540) {1112};
\node[peak, font=\rmfamily\fontsize{11}{13}\selectfont] at (axis cs:1346,3080) {1346};
\node[peak, font=\rmfamily\fontsize{11}{13}\selectfont] at (axis cs:1597,1550) {1591};
\node[plabel] at (rel axis cs:0.035,0.945) {IIb)};
\end{axis}
\end{tikzpicture}
\end{document}
